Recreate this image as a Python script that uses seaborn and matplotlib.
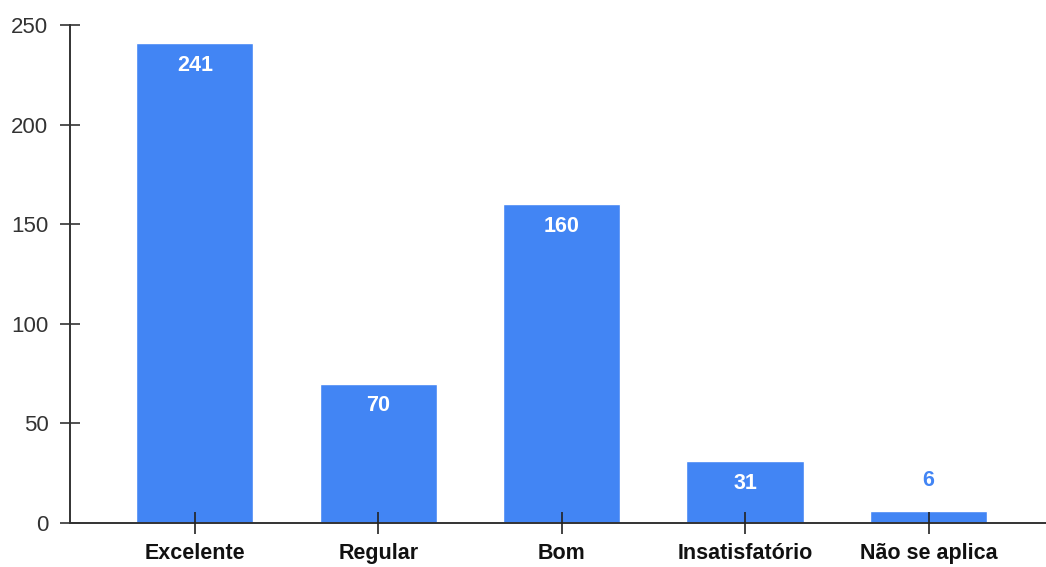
import pandas as pd
import matplotlib.pyplot as plt
import seaborn as sns

categorias = ["Excelente", "Regular", "Bom", "Insatisfatório", "Não se aplica"]
respostas = [241, 70, 160, 31, 6]
ticks_y = [0, 50, 100, 150, 200, 250]

azul = "#4285F4"

sns.set_style("white")
plt.rcParams['font.family'] = ['Liberation Sans', 'DejaVu Sans']

df = pd.DataFrame({"categoria": categorias, "respostas": respostas})

fig = plt.figure(figsize=(10.46, 5.67), dpi=100)
ax = fig.add_axes([70 / 1046, 44 / 567, 976 / 1046, 498 / 567])

sns.barplot(data=df, x="categoria", y="respostas", color=azul, saturation=1,
            width=0.64, ax=ax)

ax.set_xlim(-0.68, 4.64)
ax.set_ylim(0, 250)
ax.set_yticks(ticks_y)
ax.set_xlabel("")
ax.set_ylabel("")
ax.set_axisbelow(False)  # os ticks passam por cima das barras

for lado in ["top", "right"]:
    ax.spines[lado].set_visible(False)
for lado in ["left", "bottom"]:
    ax.spines[lado].set_color("#333333")
    ax.spines[lado].set_linewidth(1.4)

ax.tick_params(axis="y", left=True, direction="inout", length=15, width=1.2,
               color="#333333", labelsize=16, labelcolor="#333333", pad=8)
ax.tick_params(axis="x", bottom=True, direction="inout", length=16.5, width=1.2,
               color="#222222", labelsize=15.5, labelcolor="#111111", pad=6.5)
for lbl in ax.get_xticklabels():
    lbl.set_fontweight("bold")

for i, v in enumerate(respostas):
    if v > 20:
        ax.annotate(str(v), (i, v), xytext=(0, -16), textcoords="offset points",
                    ha="center", va="center", color="white", fontsize=15.5,
                    fontweight="bold")
    else:
        ax.annotate(str(v), (i, v), xytext=(0, 22), textcoords="offset points",
                    ha="center", va="center", color=azul, fontsize=15.5,
                    fontweight="bold")

plt.savefig("out.png", dpi=100)
plt.close(fig)
